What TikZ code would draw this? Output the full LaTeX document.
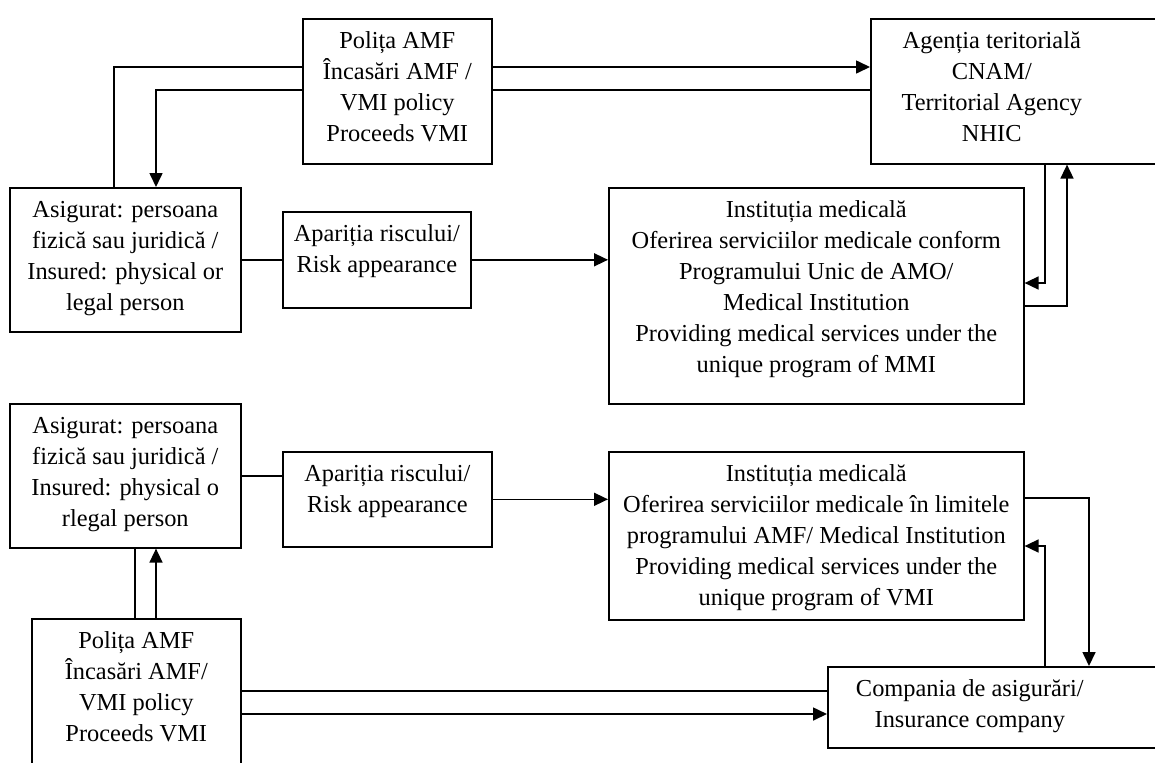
\documentclass[tikz,border=0pt]{standalone}
\usepackage{fontspec}
\setmainfont{Liberation Serif}
\usepackage{tikz}
\usetikzlibrary{arrows.meta}

\newlength\px
\setlength\px{0.5pt}
\newcommand{\boxtext}[3]{\parbox[t][#2\px][t]{#1\px}{\centering\rule{0pt}{15pt}#3}}

\begin{document}
\begin{tikzpicture}[x=0.5pt, y=-0.5pt, line width=0.8pt,
    blk/.style={draw, inner sep=0pt, anchor=north west, font=\fontsize{12.2}{15.5}\selectfont},
    arr/.style={-{Triangle[length=7pt, width=6.5pt]}}]
    \useasboundingbox (0,0) rectangle (1155,762);
    \clip (0,0) rectangle (1155,762);

    % upper scheme (AMO)
    \node[blk] (polita1) at (302,18) {\boxtext{189}{145}{Polița AMF\\Încasări AMF /\\VMI policy\\Proceeds VMI}};
    \node[blk] (agentia) at (870,18) {\boxtext{242}{145}{Agenția teritorială\\CNAM/\\Territorial Agency\\NHIC}\rule{60\px}{0pt}};
    \node[blk] (asig1) at (9,187) {\boxtext{231}{144}{Asigurat: persoana\\fizică sau juridică /\\Insured: physical or\\legal person}};
    \node[blk] (risc1) at (282,211) {\boxtext{188}{96}{Apariția riscului/\\Risk appearance}};
    \node[blk] (inst1) at (608,187) {\boxtext{415}{216}{Instituția medicală\\Oferirea serviciilor medicale conform\\Programului Unic de AMO/\\Medical Institution\\Providing medical services under the\\unique program of MMI}};

    % lower scheme (AMF)
    \node[blk] (asig2) at (9,403) {\boxtext{231}{144}{Asigurat: persoana\\fizică sau juridică /\\Insured: physical o\\rlegal person}};
    \node[blk] (risc2) at (282,451) {\boxtext{209}{95}{Apariția riscului/\\Risk appearance}};
    \node[blk] (inst2) at (608,451) {\boxtext{415}{168}{Instituția medicală\\Oferirea serviciilor medicale în limitele\\programului AMF/ Medical Institution\\Providing medical services under the\\unique program of VMI}};
    \node[blk] (polita2) at (31,618) {\boxtext{209}{170}{Polița AMF\\Încasări AMF/\\VMI policy\\Proceeds VMI}};
    \node[blk] (compania) at (827,666) {\boxtext{284}{81}{Compania de asigurări/\\Insurance company}\rule{60\px}{0pt}};

    % connectors, upper
    \draw (asig1.north -| 114,0) |- (polita1.west |- 0,67);
    \draw[arr] (polita1.east |- 0,67) -- (agentia.west |- 0,67);
    \draw (agentia.west |- 0,90) -- (polita1.east |- 0,90);
    \draw[arr] (polita1.west |- 0,90) -| (asig1.north -| 156,0);
    \draw (asig1.east) -- (asig1.east -| risc1.west);
    \draw[arr] (risc1.east) -- (risc1.east -| inst1.west);
    \draw[arr] (agentia.south -| 1045,0) |- (inst1.east |- 0,283);
    \draw[arr] (inst1.east |- 0,306) -| (agentia.south -| 1067,0);

    % connectors, lower
    \draw (asig2.east) -- (asig2.east -| risc2.west);
    \draw[arr] (risc2.east) -- (risc2.east -| inst2.west);
    \draw (polita2.north -| 135,0) -- (asig2.south -| 135,0);
    \draw[arr] (polita2.north -| 156,0) -- (asig2.south -| 156,0);
    \draw (polita2.east |- 0,691) -- (compania.west |- 0,691);
    \draw[arr] (polita2.east |- 0,714) -- (compania.west |- 0,714);
    \draw[arr] (inst2.east |- 0,498) -| (compania.north -| 1089,0);
    \draw[arr] (compania.north -| 1045,0) |- (inst2.east |- 0,546);
\end{tikzpicture}
\end{document}
